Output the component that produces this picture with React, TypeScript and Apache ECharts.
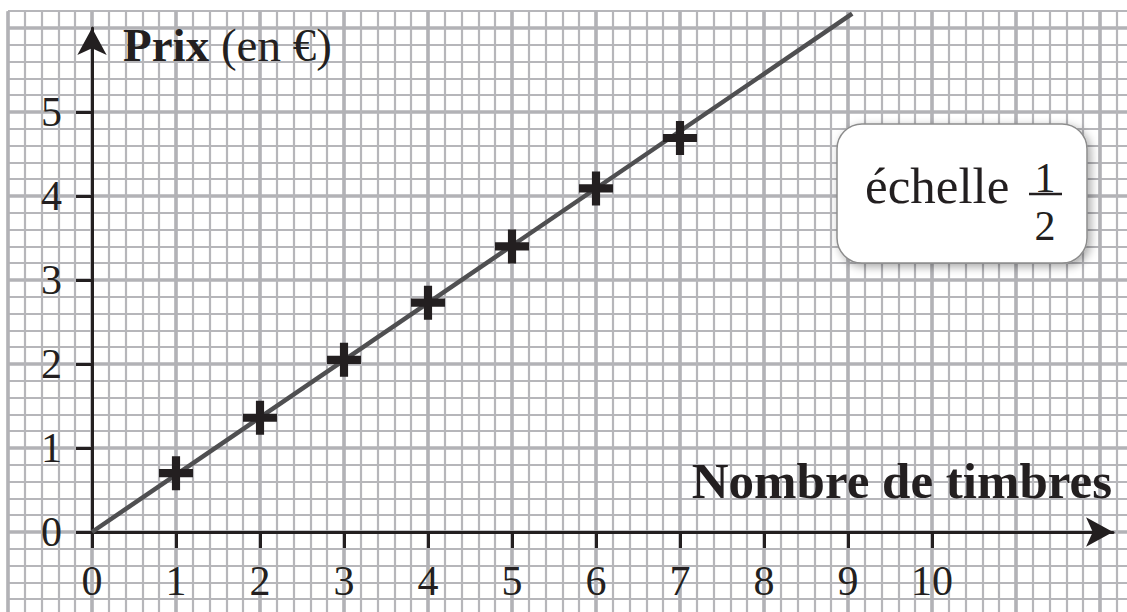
import React, { useEffect, useRef } from "react";
import * as echarts from "echarts";

// ---- data ----
const xTickValues = [0, 1, 2, 3, 4, 5, 6, 7, 8, 9, 10];
const yTickValues = [0, 1, 2, 3, 4, 5];
const stampCounts = [1, 2, 3, 4, 5, 6, 7];
const prices = [0.7, 1.36, 2.05, 2.73, 3.4, 4.09, 4.69];
const lineX = [0, 9.05];
const lineY = [0, 6.17];
const xAxisTitle = "Nombre de timbres";
const yAxisTitle = "Prix";
const yAxisUnit = "(en €)";
const scaleWord = "échelle";
const scaleNumerator = "1";
const scaleDenominator = "2";

// ---- layout ----
const U = 84; // px per unit
const OX = 92;
const OY = 532;
const FONT = '"Liberation Serif", "Times New Roman", serif';
const INK = "#231f20";
const MINOR = "#b6b6ba";
const MAJOR = "#b2b2b6";

const PLUS = "path://M0,38L38,38L38,0L62,0L62,38L100,38L100,62L62,62L62,100L38,100L38,62L0,62Z";

export default function App() {
  const ref = useRef<HTMLDivElement>(null);
  useEffect(() => {
    if (!ref.current) return;
    const chart = echarts.init(ref.current, undefined, { renderer: "svg" });
    const paperGrid = {
      left: OX - U,
      top: OY - 6.2 * U,
      width: 14 * U,
      height: 7.2 * U,
      containLabel: false,
      outerBoundsMode: "none",
    };
    const hidden = {
      axisLine: { show: false },
      axisTick: { show: false },
      axisLabel: { show: false },
    };
    const xMaxAxis = 12.155;
    const yMaxAxis = 6;
    const option: any = {
      animation: false,
      backgroundColor: "#ffffff",
      grid: [
        paperGrid,
        { ...paperGrid },
        { left: OX - U, top: OY - 6 * U, width: 14 * U, height: 7 * U, containLabel: false, outerBoundsMode: "none" },
        { left: OX, top: OY - yMaxAxis * U, width: xMaxAxis * U, height: yMaxAxis * U, containLabel: false, outerBoundsMode: "none" },
      ],
      xAxis: [
        { type: "value", gridIndex: 0, min: -1, max: 13, interval: 0.2, ...hidden,
          splitLine: { show: true, lineStyle: { color: MINOR, width: 2.2 } } },
        { type: "value", gridIndex: 1, min: -1, max: 13, interval: 1, ...hidden,
          splitLine: { show: true, lineStyle: { color: MAJOR, width: 3.6 } } },
        { type: "value", gridIndex: 2, min: -1, max: 13, interval: 1, ...hidden, splitLine: { show: false } },
        {
          type: "value", gridIndex: 3, min: 0, max: xMaxAxis, position: "bottom",
          axisLine: { show: true, onZero: false, symbol: ["none", "arrow"], symbolSize: [22, 27],
            lineStyle: { color: INK, width: 3 } },
          axisTick: { show: true, customValues: xTickValues, length: 16, inside: false,
            lineStyle: { color: INK, width: 3 } },
          axisLabel: { show: true, customValues: xTickValues, margin: 28, fontFamily: FONT,
            fontSize: 42, lineHeight: 42, color: INK, formatter: (v: number) => String(v) },
          splitLine: { show: false },
          name: xAxisTitle,
          nameLocation: "end",
          nameGap: -1,
          nameMoveOverlap: false,
          nameTextStyle: { fontFamily: FONT, fontSize: 51, fontWeight: "bold", color: INK,
            align: "right", verticalAlign: "bottom", lineHeight: 51, padding: [0, 0, 26, 0] },
        },
      ],
      yAxis: [
        { type: "value", gridIndex: 0, min: -1, max: 6.2, interval: 0.2, ...hidden,
          splitLine: { show: true, lineStyle: { color: MINOR, width: 2.2 } } },
        { type: "value", gridIndex: 1, min: -1, max: 6.2, interval: 1, ...hidden, splitLine: { show: false } },
        { type: "value", gridIndex: 2, min: -1, max: 6, interval: 1, ...hidden,
          splitLine: { show: true, lineStyle: { color: MAJOR, width: 3.6 } } },
        {
          type: "value", gridIndex: 3, min: 0, max: yMaxAxis, position: "left",
          axisLine: { show: true, onZero: false, symbol: ["none", "arrow"], symbolSize: [22, 27],
            lineStyle: { color: INK, width: 3 } },
          axisTick: { show: true, customValues: yTickValues, length: 16, inside: false,
            lineStyle: { color: INK, width: 3 } },
          axisLabel: { show: true, customValues: yTickValues, margin: 30, fontFamily: FONT,
            fontSize: 42, lineHeight: 42, color: INK, formatter: (v: number) => String(v) },
          splitLine: { show: false },
          name: `{b|${yAxisTitle}} {r|${yAxisUnit}}`,
          nameLocation: "end",
          nameGap: -17,
          nameMoveOverlap: false,
          nameTextStyle: {
            fontFamily: FONT, fontSize: 47, color: INK, align: "left", verticalAlign: "middle",
            padding: [0, 0, 0, 31],
            rich: {
              b: { fontFamily: FONT, fontSize: 47, fontWeight: "bold", color: INK },
              r: { fontFamily: FONT, fontSize: 47, color: INK },
            },
          },
        },
      ],
      series: [
        {
          type: "line",
          xAxisIndex: 0,
          yAxisIndex: 0,
          data: lineX.map((x, i) => [x, lineY[i]]),
          showSymbol: false,
          symbol: "none",
          clip: false,
          lineStyle: { color: "#4f4f51", width: 4.5 },
          z: 3,
        },
        {
          type: "scatter",
          xAxisIndex: 0,
          yAxisIndex: 0,
          data: stampCounts.map((n, i) => [n, prices[i]]),
          symbol: PLUS,
          symbolSize: 34,
          itemStyle: { color: INK, opacity: 1 },
          z: 4,
        },
      ],
      graphic: [
        {
          type: "rect",
          shape: { x: 837, y: 124, width: 250, height: 139, r: 25 },
          style: { fill: "#ffffff", stroke: "#8c8c8c", lineWidth: 1.5,
            shadowBlur: 10, shadowColor: "rgba(0,0,0,0.35)", shadowOffsetX: 3, shadowOffsetY: 3 },
          z: 10,
        },
        {
          type: "text", x: 865, y: 186, z: 11,
          style: { text: scaleWord, font: `51px ${FONT}`, fill: INK, textAlign: "left", textVerticalAlign: "middle" },
        },
        {
          type: "text", x: 1045, y: 177.5, z: 11,
          style: { text: scaleNumerator, font: `42px ${FONT}`, fill: INK, textAlign: "center", textVerticalAlign: "middle" },
        },
        {
          type: "line", z: 11,
          shape: { x1: 1029, y1: 194, x2: 1062, y2: 194 },
          style: { stroke: INK, lineWidth: 2.5 },
        },
        {
          type: "text", x: 1045, y: 225.5, z: 11,
          style: { text: scaleDenominator, font: `42px ${FONT}`, fill: INK, textAlign: "center", textVerticalAlign: "middle" },
        },
      ],
    };
    chart.setOption(option);
    return () => chart.dispose();
  }, []);
  return (
    <div
      ref={ref}
      style={{ position: "absolute", left: 0, top: 0, width: 1127, height: 612, background: "#fff" }}
    />
  );
}
